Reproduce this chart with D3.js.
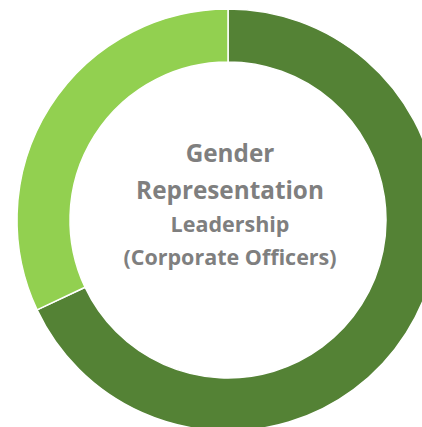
<!DOCTYPE html>
<html>
<head>
<meta charset="utf-8">
<script src="https://cdn.jsdelivr.net/npm/d3@7.9.0/dist/d3.min.js"></script>
<style>
  html, body { margin: 0; padding: 0; background: #fff; }
  svg { display: block; }
</style>
</head>
<body>
<div id="chart"></div>
<script>
// slices, clockwise from 12 o'clock
const categories = ['Men', 'Women'];
const values = [68, 32];
const colors = ['#548235', '#92D050'];
const titleLines = ['Gender', 'Representation'];
const subtitleLines = ['Leadership', '(Corporate Officers)'];

const width = 422;
const height = 427;
const cx = 228, cy = 220;
const outerR = 211, innerR = 158;

const svg = d3.select('#chart')
  .append('svg')
  .attr('width', width)
  .attr('height', height);

const data = categories.map((c, i) => ({ cat: c, value: values[i], color: colors[i] }));

const pie = d3.pie().sort(null).value(d => d.value);
const arc = d3.arc().innerRadius(innerR).outerRadius(outerR);

const g = svg.append('g').attr('transform', `translate(${cx},${cy})`);

g.selectAll('path')
  .data(pie(data))
  .join('path')
  .attr('d', arc)
  .attr('fill', d => d.data.color)
  .attr('stroke', '#fff')
  .attr('stroke-width', 1.5);

// center label
const label = svg.append('g')
  .attr('font-family', '"Open Sans", sans-serif')
  .attr('fill', '#7f7f7f')
  .attr('text-anchor', 'middle');

const rows = [
  { text: titleLines[0], y: 162, size: 24.3, weight: 700 },
  { text: titleLines[1], y: 199, size: 24.3, weight: 700 },
  { text: subtitleLines[0], y: 232, size: 21.5, weight: 700 },
  { text: subtitleLines[1], y: 265, size: 21.5, weight: 700 }
];

label.selectAll('text')
  .data(rows)
  .join('text')
  .attr('x', 230)
  .attr('y', d => d.y)
  .attr('font-size', d => d.size)
  .attr('font-weight', d => d.weight)
  .text(d => d.text);
</script>
</body>
</html>
